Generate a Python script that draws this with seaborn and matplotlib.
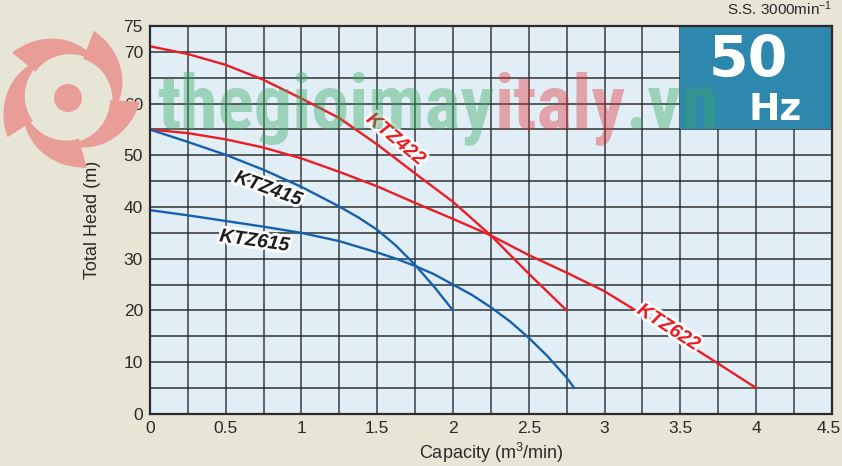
import numpy as np
import pandas as pd
import matplotlib
matplotlib.use('Agg')
import matplotlib.pyplot as plt
import matplotlib.patheffects as pe
import matplotlib.transforms as mtransforms
from matplotlib import font_manager
from matplotlib.patches import Rectangle, Polygon, Circle
import seaborn as sns

# pump curves (capacity m3/min -> head m)
q_422 = [0, 0.25, 0.5, 0.75, 1.0, 1.25, 1.5, 1.75, 2.0, 2.25, 2.5, 2.75]
h_422 = [71.1, 69.6, 67.5, 64.6, 61.0, 57.2, 52.1, 46.5, 41.0, 34.5, 27.1, 20.0]

q_622 = [0, 0.25, 0.5, 0.75, 1.0, 1.25, 1.5, 1.75, 2.0, 2.25, 2.5, 2.75, 3.0, 3.25, 3.5, 3.75, 4.0]
h_622 = [55.0, 54.3, 53.1, 51.5, 49.4, 46.8, 44.0, 40.8, 37.7, 34.5, 30.7, 27.3, 23.7, 19.2, 14.4, 9.7, 5.0]

q_415 = [0, 0.25, 0.5, 0.75, 1.0, 1.25, 1.375, 1.5, 1.625, 1.75, 1.875, 2.0]
h_415 = [55.0, 52.6, 50.1, 47.2, 43.9, 40.1, 38.0, 35.6, 32.5, 28.8, 24.6, 20.0]

q_615 = [0, 0.25, 0.5, 0.75, 1.0, 1.25, 1.5, 1.625, 1.75, 1.875, 2.0, 2.125, 2.25, 2.375, 2.5, 2.625, 2.75, 2.8]
h_615 = [39.4, 38.4, 37.3, 36.2, 35.0, 33.4, 31.2, 30.0, 28.6, 27.0, 25.0, 23.0, 20.6, 17.9, 14.7, 11.1, 7.0, 5.0]

models = ['KTZ422', 'KTZ622', 'KTZ415', 'KTZ615']
x_ticks = [0, 0.5, 1, 1.5, 2, 2.5, 3, 3.5, 4, 4.5]
x_labels = ['0', '0.5', '1', '1.5', '2', '2.5', '3', '3.5', '4', '4.5']
y_ticks = [0, 10, 20, 30, 40, 50, 60, 70, 75]

RED = '#ec1c24'
BLUE = '#1661ad'
BG = '#e7e5d5'
PLOT_BG = '#e2eef6'
BOX = '#2e87ad'
TXT = '#2a2a2a'

sns.set_theme(style='white')
plt.rcParams['font.family'] = ['Liberation Sans', 'DejaVu Sans']
plt.rcParams['mathtext.fontset'] = 'custom'
plt.rcParams['mathtext.rm'] = 'Liberation Sans'
plt.rcParams['mathtext.it'] = 'Liberation Sans:italic'


def pick_font(names):
    for n in names:
        try:
            font_manager.findfont(n, fallback_to_default=False)
            return n
        except Exception:
            pass
    return 'DejaVu Sans'


frames = []
for name, q, h in [('KTZ422', q_422, h_422), ('KTZ622', q_622, h_622),
                   ('KTZ415', q_415, h_415), ('KTZ615', q_615, h_615)]:
    frames.append(pd.DataFrame({'capacity': q, 'head': h, 'model': name}))
df = pd.concat(frames, ignore_index=True)

W, H = 842, 466
fig = plt.figure(figsize=(W / 100, H / 100), dpi=100, facecolor=BG)
ax = fig.add_axes([0.178, 0.112, 0.810, 0.832])
ax.set_facecolor(PLOT_BG)
renderer = fig.canvas.get_renderer()

# --- watermark logo (swirl), drawn in pixel space ---
pix = mtransforms.IdentityTransform()
cx, cy = 68, H - 98
pink = '#e89d97'
fig.patches.append(Circle((cx, cy), 14, transform=pix, facecolor=pink, edgecolor='none', zorder=0.3))
for k in range(5):
    a0 = 141 - 72 * k
    t = np.linspace(0, 1, 40)
    ang = np.radians(a0 - 86 * t)
    r_in = 42 + 3 * t
    r_out = 72 - 25 * t
    xs = np.concatenate([cx + r_out * np.cos(ang), (cx + r_in * np.cos(ang))[::-1]])
    ys = np.concatenate([cy + r_out * np.sin(ang), (cy + r_in * np.sin(ang))[::-1]])
    fig.patches.append(Polygon(np.column_stack([xs, ys]), closed=True, transform=pix,
                               facecolor=pink, edgecolor='none', zorder=0.3))

# --- watermark text, laid out piece by piece, scaled to the reference width ---
wm_font = pick_font(['Liberation Sans Narrow', 'Roboto Condensed', 'Roboto'])
wm_parts = [('thegioimay', '#36a862'), ('italy', '#e0303a'), ('.vn', '#36a862')]
probe = fig.text(0, 0, ''.join(p for p, _ in wm_parts), fontsize=50, fontweight='bold',
                 family=wm_font)
wm_size = 50 * 563 / probe.get_window_extent(renderer).width
probe.remove()
x_px = 157
for part, col in wm_parts:
    t = fig.text(x_px / W, (H - 128) / H, part, fontsize=wm_size, fontweight='bold',
                 family=wm_font, color=col, alpha=0.4, va='baseline', zorder=0.5)
    x_px = t.get_window_extent(renderer).x1

# grid
for x in np.arange(0, 4.51, 0.25):
    ax.axvline(x, color='#3a3d40', lw=1.1, zorder=1)
for y in np.arange(0, 75.1, 5):
    ax.axhline(y, color='#2f3133', lw=1.1, zorder=1)

# 50 Hz box
ax.add_patch(Rectangle((3.5, 55), 1.0, 20, facecolor=BOX, edgecolor='none', zorder=2))
ax.text(3.95, 65.2, '50', color='white', fontsize=41, fontweight='bold', family='DejaVu Sans',
        ha='center', va='baseline', zorder=3)
ax.text(4.126, 56.8, 'Hz', color='white', fontsize=27, fontweight='bold', family='DejaVu Sans',
        ha='center', va='baseline', zorder=3)

sns.lineplot(data=df, x='capacity', y='head', hue='model', hue_order=models,
             palette={'KTZ422': RED, 'KTZ622': RED, 'KTZ415': BLUE, 'KTZ615': BLUE},
             sort=False, estimator=None, linewidth=1.7, legend=False, ax=ax, zorder=4)

stroke = [pe.withStroke(linewidth=4, foreground='white')]
lab = dict(fontsize=14, fontweight='bold', style='italic', ha='center', va='center',
           path_effects=stroke, zorder=5)
ax.text(1.62, 53.0, 'KTZ422', color=RED, rotation=-40, **lab)
ax.text(0.78, 43.4, 'KTZ415', color='#1e1e1e', rotation=-20, **lab)
ax.text(0.69, 33.3, 'KTZ615', color='#1e1e1e', rotation=-8, **lab)
ax.text(3.42, 16.6, 'KTZ622', color=RED, rotation=-33, **lab)

ax.set_xlim(0, 4.5)
ax.set_ylim(0, 75)
ax.set_xticks(x_ticks)
ax.set_xticklabels(x_labels)
ax.set_yticks(y_ticks)
ax.tick_params(length=0, labelsize=12.5, colors=TXT, pad=5)
last = ax.get_xticklabels()[-1]
last.set_transform(last.get_transform() + mtransforms.ScaledTranslation(-3 / 100, 0, fig.dpi_scale_trans))
ax.set_xlabel('Capacity (m$^3$/min)', fontsize=13, color=TXT, labelpad=4)
ax.set_ylabel('Total Head (m)', fontsize=13, color=TXT, labelpad=16)
for s in ax.spines.values():
    s.set_color(TXT)
    s.set_linewidth(1.6)
    s.set_zorder(6)

fig.text(0.988, 0.962, 'S.S. 3000min$^{-1}$', fontsize=11, color=TXT, ha='right', va='bottom')

fig.savefig('out.png', dpi=100, facecolor=BG)
